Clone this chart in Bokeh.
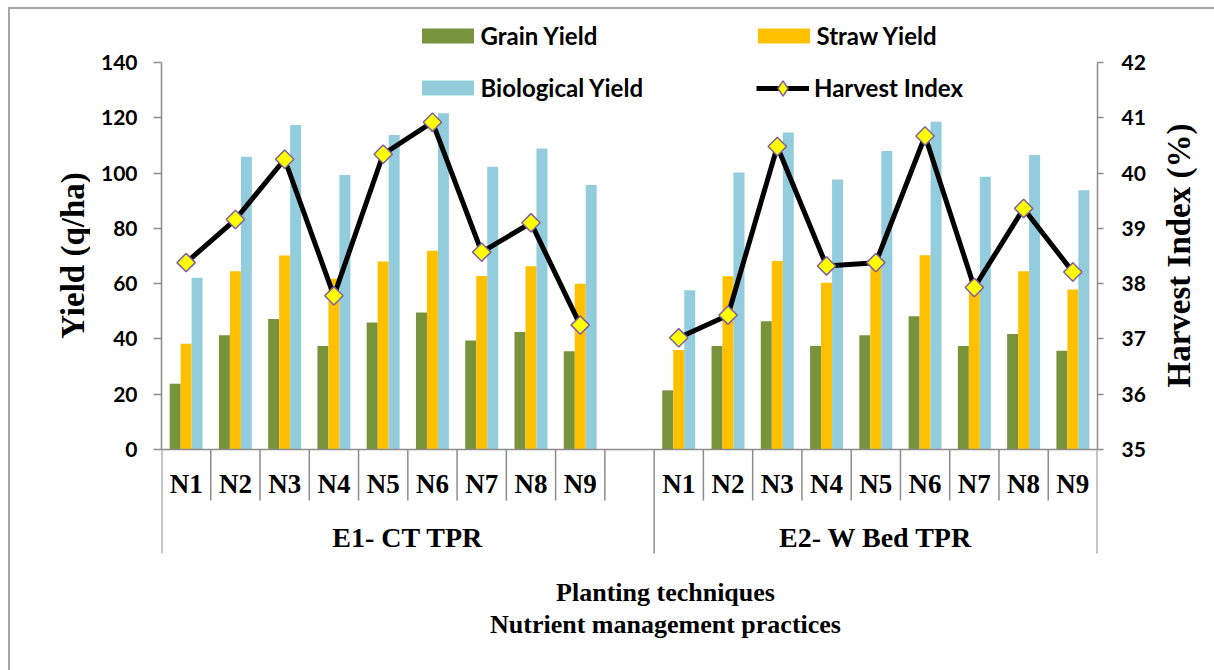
import numpy as np
from bokeh.plotting import figure
from bokeh.layouts import row
from bokeh.models import (FactorRange, Range1d, LinearAxis, FixedTicker, ColumnDataSource,
                          Legend, LegendItem, Span, Label, InlineStyleSheet)
from bokeh.transform import dodge
from bokeh.core.properties import value
from bokeh.embed import file_html
from bokeh.resources import INLINE

# ---------------- data ----------------
groups = ["E1- CT TPR", "E2- W Bed TPR"]
treatments = ["N1", "N2", "N3", "N4", "N5", "N6", "N7", "N8", "N9"]

grain_e1 = [23.8, 41.3, 47.2, 37.4, 45.9, 49.6, 39.4, 42.5, 35.5]
straw_e1 = [38.3, 64.5, 70.2, 61.8, 68.0, 71.9, 62.8, 66.3, 60.0]
bio_e1 = [62.1, 105.9, 117.4, 99.3, 113.8, 121.6, 102.3, 108.9, 95.7]
hi_e1 = [38.38, 39.16, 40.25, 37.78, 40.34, 40.92, 38.57, 39.10, 37.25]

grain_e2 = [21.4, 37.4, 46.4, 37.4, 41.3, 48.2, 37.4, 41.8, 35.7]
straw_e2 = [36.0, 62.7, 68.2, 60.3, 66.7, 70.3, 61.3, 64.5, 57.9]
bio_e2 = [57.6, 100.2, 114.7, 97.7, 108.0, 118.6, 98.7, 106.5, 93.8]
hi_e2 = [37.02, 37.43, 40.48, 38.32, 38.38, 40.67, 37.93, 39.36, 38.21]

yield_ticks = [0, 20, 40, 60, 80, 100, 120, 140]
hi_ticks = [35, 36, 37, 38, 39, 40, 41, 42]

series_names = ["Grain Yield", "Straw Yield", "Biological Yield", "Harvest Index"]
y_title = "Yield (q/ha)"
y2_title = "Harvest Index (%)"
x_title_1 = "Planting techniques"
x_title_2 = "Nutrient management practices"

# ---------------- styling / layout ----------------
C_GRAIN = "#77933C"
C_STRAW = "#FFC000"
C_BIO = "#93CDDD"
AX = "#8c8c8c"
SANS = "Lato"
SERIF = "Liberation Serif"

W, H = 1214, 670
LEFT_W, RIGHT_W = 90, 64               # side strips holding the axis titles
MAIN_W = W - LEFT_W - RIGHT_W
FRAME_L, FRAME_R = 161, 1097           # absolute page x of the plot frame
PX_TOP_VAL, PX_ZERO = 62, 449          # pixel rows of 140 and 0
PX_SEP_INNER, PX_SEP_OUTER = 500, 553  # bottom of category separators

Y_MIN, Y_MAX = yield_ticks[0], yield_ticks[-1]
H_MIN, H_MAX = hi_ticks[0], hi_ticks[-1]
ppu = (PX_ZERO - PX_TOP_VAL) / (Y_MAX - Y_MIN)
y_top = Y_MAX + PX_TOP_VAL / ppu
y_bot = Y_MIN - (H - PX_ZERO) / ppu
hpu = (PX_ZERO - PX_TOP_VAL) / (H_MAX - H_MIN)
h_top = H_MAX + PX_TOP_VAL / hpu
h_bot = H_MIN - (H - PX_ZERO) / hpu


def yv(px):
    """pixel row -> value on the yield scale"""
    return Y_MIN - (px - PX_ZERO) / ppu


# factors: an empty slot closes the first group (as in the original)
factors = []
for g in groups:
    for n in treatments:
        factors.append((g, n))
    if g == groups[0]:
        factors.append((g, " "))

xs = [(groups[0], n) for n in treatments] + [(groups[1], n) for n in treatments]
src = ColumnDataSource(dict(
    x=xs,
    grain=grain_e1 + grain_e2,
    straw=straw_e1 + straw_e2,
    bio=bio_e1 + bio_e2,
    hi=hi_e1 + hi_e2,
))


def blank_fig(width):
    f = figure(width=width, height=H, x_range=Range1d(0, width), y_range=Range1d(0, H),
               x_axis_location=None, y_axis_location=None,
               output_backend="svg", toolbar_location=None,
               min_border=0, min_border_left=0, min_border_right=0,
               min_border_top=0, min_border_bottom=0)
    f.xgrid.visible = False
    f.ygrid.visible = False
    f.outline_line_color = None
    f.background_fill_color = "white"
    f.border_fill_color = "white"
    return f


p = figure(width=MAIN_W, height=H,
           x_range=FactorRange(*factors, group_padding=0, factor_padding=0,
                               subgroup_padding=0, range_padding=0),
           y_range=Range1d(y_bot, y_top),
           x_axis_location=None,
           output_backend="svg", toolbar_location=None,
           min_border_left=FRAME_L - LEFT_W, min_border_right=W - RIGHT_W - FRAME_R,
           min_border_top=0, min_border_bottom=0)
p.extra_y_ranges = {"hi": Range1d(h_bot, h_top)}
p.xgrid.visible = False
p.ygrid.visible = False
p.outline_line_color = None
p.background_fill_color = "white"
p.border_fill_color = "white"


def style_axis(ax, ticks, standoff, tick_out):
    ax.ticker = FixedTicker(ticks=ticks)
    ax.bounds = (ticks[0], ticks[-1])
    ax.axis_line_color = AX
    ax.axis_line_width = 1.5
    ax.major_tick_line_color = AX
    ax.major_tick_line_width = 1.5
    ax.major_tick_out = tick_out
    ax.major_tick_in = 0
    ax.minor_tick_line_color = None
    ax.major_label_standoff = standoff
    ax.major_label_text_font = SANS
    ax.major_label_text_font_style = "bold"
    ax.major_label_text_font_size = "21px"
    ax.major_label_text_color = "black"


style_axis(p.yaxis[0], yield_ticks, 16, 8)
ra = LinearAxis(y_range_name="hi")
style_axis(ra, hi_ticks, 18, 6)
p.add_layout(ra, "right")

# baseline
p.add_layout(Span(location=0, dimension="width", line_color=AX, line_width=1.5))

# bars
bw = 0.223
r_grain = p.vbar(x=dodge("x", -bw, range=p.x_range), top="grain", width=bw, source=src,
                 fill_color=C_GRAIN, line_color=None)
r_straw = p.vbar(x=dodge("x", 0, range=p.x_range), top="straw", width=bw, source=src,
                 fill_color=C_STRAW, line_color=None)
r_bio = p.vbar(x=dodge("x", bw, range=p.x_range), top="bio", width=bw, source=src,
               fill_color=C_BIO, line_color=None)

# harvest index line (broken between the two groups) and markers
r_line = p.multi_line(xs=[[(groups[0], n) for n in treatments], [(groups[1], n) for n in treatments]],
                      ys=[hi_e1, hi_e2], y_range_name="hi", line_color="black",
                      line_width=5, line_join="round")
MARK_FILL, MARK_LINE = "#FFFF00", "#7F5FA0"
MARK_SIZE = 13
# a diamond marker (used for the legend swatch) lying fully inside the rotated squares
r_leg_mark = p.scatter(x="x", y="hi", source=src, y_range_name="hi", marker="diamond",
                       size=MARK_SIZE * 1.35, fill_color=MARK_FILL,
                       line_color=MARK_LINE, line_width=1.5)
r_mark = p.scatter(x="x", y="hi", source=src, y_range_name="hi", marker="square",
                   angle=np.pi / 4, size=MARK_SIZE, fill_color=MARK_FILL,
                   line_color=MARK_LINE, line_width=1.5)

# category separators (Excel-like boxed category axis)
inner_x = []
for g in groups:
    subs = [f for f in factors if f[0] == g]
    for f in subs[:-1]:
        inner_x.append((f[0], f[1], 0.5))
p.segment(x0=inner_x, x1=inner_x, y0=[0] * len(inner_x), y1=[yv(PX_SEP_INNER)] * len(inner_x),
          line_color=AX, line_width=1.5)
outer_x = [(factors[0][0], factors[0][1], -0.495),
           (factors[len(treatments)][0], factors[len(treatments)][1], 0.5),
           (factors[-1][0], factors[-1][1], 0.495)]
p.segment(x0=outer_x, x1=outer_x, y0=[0] * 3, y1=[yv(PX_SEP_OUTER)] * 3,
          line_color=AX, line_width=1.5)

# category labels
p.text(x=xs, y=yv(483), text=treatments + treatments, text_align="center",
       text_baseline="middle", text_font=value(SERIF), text_font_style="bold",
       text_font_size="27px", text_color="black")
p.text(x=groups, y=yv(537), text=groups, text_align="center", text_baseline="middle",
       text_font=value(SERIF), text_font_style="bold", text_font_size="28px",
       text_color="black")

# x title (two lines)
for txt, py in ((x_title_1, 592), (x_title_2, 624)):
    p.add_layout(Label(x=665 - LEFT_W, y=py, x_units="canvas", y_units="canvas", text=txt,
                       text_align="center", text_baseline="middle",
                       text_font=SERIF, text_font_style="bold", text_font_size="26px",
                       text_color="black"))


# legends
def add_legend(label, renderers, left, center_y, gw, gh, standoff):
    lh = 30
    bh = max(lh, gh)
    leg = Legend(items=[LegendItem(label=label, renderers=renderers)],
                 location=(left - FRAME_L, H - (center_y + bh / 2)),
                 orientation="horizontal", padding=0, margin=0, spacing=0,
                 glyph_width=gw, glyph_height=gh, label_standoff=standoff,
                 label_height=lh, label_text_font=SANS, label_text_font_style="bold",
                 label_text_font_size="24px", label_text_color="black",
                 border_line_color=None, background_fill_alpha=0)
    p.add_layout(leg, "center")


add_legend(series_names[0], [r_grain], 414.5, 35.5, 65, 19, 1)
add_legend(series_names[1], [r_straw], 750.5, 35.5, 65, 19, 1)
add_legend(series_names[2], [r_bio], 414.5, 87.5, 65, 19, 1)
add_legend(series_names[3], [r_line, r_leg_mark], 756, 87.5, 53, 38, 5)

# axis titles in the side strips (read bottom to top)
fl = blank_fig(LEFT_W)
fl.add_layout(Label(x=72, y=H - 255, text=y_title, angle=np.pi / 2,
                    text_align="center", text_baseline="middle", text_font=SERIF,
                    text_font_style="bold", text_font_size="33px", text_color="black"))
fr = blank_fig(RIGHT_W)
fr.add_layout(Label(x=1178 - (W - RIGHT_W), y=H - 255, text=y2_title, angle=np.pi / 2,
                    text_align="center", text_baseline="middle", text_font=SERIF,
                    text_font_style="bold", text_font_size="33px", text_color="black"))

border_css = InlineStyleSheet(css="""
:host { position: relative; }
:host::after { content: ""; position: absolute; left: 8px; top: 7px; right: 0; bottom: 0;
  border-left: 2px solid #a6a6a6; border-top: 2px solid #a6a6a6; pointer-events: none; }
""")
layout = row(fl, p, fr, spacing=0, stylesheets=[border_css])

open("out.html", "w").write(file_html(layout, INLINE))
